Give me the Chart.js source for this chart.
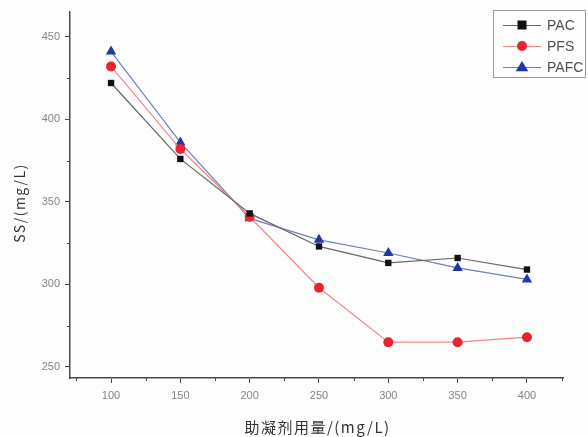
<!DOCTYPE html>
<html lang="zh">
<head>
<meta charset="UTF-8">
<title>SS</title>
<script src="https://cdn.jsdelivr.net/npm/chart.js@4.4.0/dist/chart.umd.min.js"></script>
<style>
  body { margin: 0; background: #fdfdfd; }
  canvas { display: block; }
</style>
</head>
<body>
<canvas id="ss-canvas" width="588" height="437"></canvas>
<script>
// dosage (mg/L) and SS for each coagulant aid
var doses = [100, 150, 200, 250, 300, 350, 400];
var pac  = [422, 376, 343, 323, 313, 316, 309];
var pfs  = [432, 382, 341, 298, 265, 265, 268];
var pafc = [441, 386, 340, 327, 319, 310, 303];

var xTicks = [100, 150, 200, 250, 300, 350, 400];
var xMinor = [75, 125, 175, 225, 275, 325, 375, 425];
var yTicks = [250, 300, 350, 400, 450];
var yMinor = [275, 325, 375, 425];

var axisColor = '#4a4a4a';
var labelColor = '#858585';

function pts(vals) {
    return doses.map(function(d, i) { return {x: d, y: vals[i]}; });
}

var series = [
    {label: 'PAC',  data: pts(pac),  line: '#666666', fill: '#111111', style: 'rect',     r: 4.5},
    {label: 'PFS',  data: pts(pfs),  line: '#ec8a8a', fill: '#ea2330', style: 'circle',   r: 5},
    {label: 'PAFC', data: pts(pafc), line: '#7080b8', fill: '#2236a6', style: 'triangle', r: 6}
];

function drawMarker(ctx, s, x, y) {
    ctx.fillStyle = s.fill;
    ctx.beginPath();
    if (s.style == 'rect') {
        ctx.rect(x - s.r, y - s.r, s.r * 2, s.r * 2);
    } else if (s.style == 'circle') {
        ctx.arc(x, y, s.r, 0, Math.PI * 2);
    } else {
        ctx.moveTo(x, y - s.r);
        ctx.lineTo(x + s.r * 1.05, y + s.r * 0.7);
        ctx.lineTo(x - s.r * 1.05, y + s.r * 0.7);
        ctx.closePath();
    }
    ctx.fill();
}

// minor ticks, axis titles and the boxed legend
var extras = {
    id: 'extras',
    afterDraw: function(chart) {
        var ctx = chart.ctx;
        var xs = chart.scales.x, ys = chart.scales.y;
        var area = chart.chartArea;
        ctx.save();
        ctx.strokeStyle = axisColor;
        ctx.lineWidth = 1;
        xMinor.forEach(function(v) {
            var px = Math.round(xs.getPixelForValue(v)) + 0.5;
            ctx.beginPath(); ctx.moveTo(px, area.bottom); ctx.lineTo(px, area.bottom + 3); ctx.stroke();
        });
        yMinor.forEach(function(v) {
            var py = Math.round(ys.getPixelForValue(v)) + 0.5;
            ctx.beginPath(); ctx.moveTo(area.left, py); ctx.lineTo(area.left - 3, py); ctx.stroke();
        });

        // axis titles
        ctx.fillStyle = '#333333';
        ctx.textAlign = 'center';
        ctx.textBaseline = 'middle';
        ctx.letterSpacing = '1.5px';
        ctx.font = '15px "Noto Sans CJK SC"';
        ctx.fillText('助凝剂用量/(mg/L)', (area.left + area.right) / 2 + 1, 427);
        ctx.save();
        ctx.translate(20, 203);
        ctx.rotate(-Math.PI / 2);
        ctx.font = '14px "Noto Sans CJK SC"';
        ctx.fillText('SS/(mg/L)', 0, 0);
        ctx.restore();
        ctx.letterSpacing = '0px';

        // legend
        ctx.strokeStyle = '#9a9a9a';
        ctx.lineWidth = 1;
        ctx.strokeRect(493.5, 10.5, 92, 67);
        ctx.textAlign = 'left';
        ctx.font = '14px "Liberation Sans"';
        series.forEach(function(s, i) {
            var y = 25 + i * 21;
            ctx.strokeStyle = s.line;
            ctx.beginPath(); ctx.moveTo(503, y + 0.5); ctx.lineTo(541, y + 0.5); ctx.stroke();
            drawMarker(ctx, s, 522, y);
            ctx.fillStyle = '#505050';
            ctx.fillText(s.label, 547, y + 1);
        });
        ctx.restore();
    }
};

var datasets = series.map(function(s) {
    return {
        label: s.label,
        data: s.data,
        borderColor: s.line,
        borderWidth: 1.2,
        backgroundColor: s.fill,
        pointBackgroundColor: s.fill,
        pointBorderColor: s.fill,
        pointBorderWidth: 0,
        pointStyle: s.style,
        pointRadius: s.r,
        tension: 0
    };
});

var ctx = document.getElementById('ss-canvas').getContext('2d');
new Chart(ctx, {
    type: 'line',
    data: {datasets: datasets},
    options: {
        responsive: false,
        animation: false,
        layout: {padding: {top: 12, right: 25, left: 0, bottom: 0}},
        plugins: {legend: {display: false}, tooltip: {enabled: false}},
        scales: {
            x: {
                type: 'linear',
                min: 70.4,
                max: 426,
                afterBuildTicks: function(scale) {
                    scale.ticks = xTicks.map(function(v) { return {value: v}; });
                },
                afterFit: function(scale) { scale.height = 59; },
                border: {display: true, color: axisColor, width: 1.5},
                grid: {display: true, drawOnChartArea: false, drawTicks: true, tickLength: 5, tickColor: axisColor},
                ticks: {color: labelColor, font: {family: 'Liberation Sans', size: 11}, padding: 6, maxRotation: 0}
            },
            y: {
                min: 243.3,
                max: 465,
                afterBuildTicks: function(scale) {
                    scale.ticks = yTicks.map(function(v) { return {value: v}; });
                },
                afterFit: function(scale) { scale.width = 70; },
                border: {display: true, color: axisColor, width: 1.5},
                grid: {display: true, drawOnChartArea: false, drawTicks: true, tickLength: 5, tickColor: axisColor},
                ticks: {color: labelColor, font: {family: 'Liberation Sans', size: 11}, padding: 5}
            }
        }
    },
    plugins: [extras]
});
</script>
</body>
</html>
